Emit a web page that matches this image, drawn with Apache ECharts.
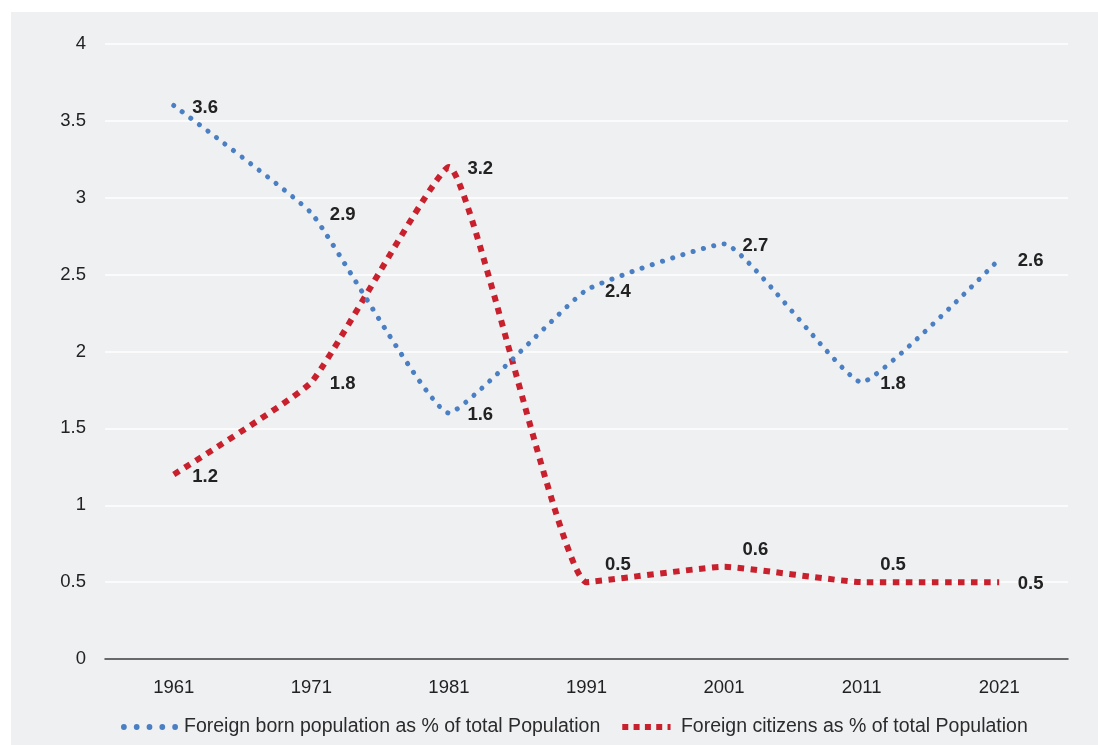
<!DOCTYPE html>
<html>
<head>
<meta charset="utf-8">
<script src="https://cdn.jsdelivr.net/npm/echarts@6/dist/echarts.min.js"></script>
<style>
  html, body { margin: 0; padding: 0; background: #ffffff; }
  #chart { position: absolute; left: 11px; top: 12px; width: 1087px; height: 733px; background: #eff0f2; }
</style>
</head>
<body>
<div id="chart"></div>
<script>
// Census years and shares of total population (%)
const years = ['1961', '1971', '1981', '1991', '2001', '2011', '2021'];
const foreignBorn = [3.6, 2.9, 1.6, 2.4, 2.7, 1.8, 2.6];
const foreignCitizens = [1.2, 1.8, 3.2, 0.5, 0.6, 0.5, 0.5];
const seriesNames = ['Foreign born population as % of total Population', 'Foreign citizens as % of total Population'];

// Labels of the flat tail of the citizens line sit above their points
const raisedCitizenLabels = ['1991', '2001', '2011'];

const BLUE = '#4a7fc3';
const RED = '#c8202d';
const FONT = 'Liberation Sans, Arial, Helvetica, sans-serif';

// Legend keys: a row of round dots and a row of square dashes
function dotRow(n, step, r) {
  let p = 'path://';
  for (let i = 0; i < n; i++) {
    const cx = r + i * step;
    p += `M${cx - r},${r}a${r},${r} 0 1,0 ${2 * r},0a${r},${r} 0 1,0 ${-2 * r},0z`;
  }
  return p;
}
function squareRow(widths, step, s) {
  let p = 'path://';
  widths.forEach((w, i) => { p += `M${i * step},0h${w}v${s}h${-w}z`; });
  return p;
}

const chart = echarts.init(document.getElementById('chart'), null, { renderer: 'canvas' });

const labelStyle = {
  show: true,
  position: 'right',
  distance: 17,
  offset: [1, 2],
  fontFamily: FONT,
  fontSize: 18.5,
  fontWeight: 'bold',
  color: '#222222'
};

chart.setOption({
  backgroundColor: '#eff0f2',
  animation: false,
  grid: { left: 94, right: 30, top: 32, bottom: 86, containLabel: false },
  legend: {
    bottom: 3,
    left: 105,
    itemGap: 22,
    itemWidth: 57,
    itemHeight: 6,
    textStyle: { fontFamily: FONT, fontSize: 19.5, color: '#2b2b2b', padding: [0, 0, 0, 1] },
    data: [
      { name: seriesNames[0], icon: dotRow(5, 13.3, 3), itemStyle: { color: BLUE, opacity: 1 } },
      { name: seriesNames[1], icon: squareRow([7, 7, 7, 7, 3.5], 13.2, 7), itemStyle: { color: RED, opacity: 1 } }
    ]
  },
  xAxis: {
    type: 'category',
    data: years,
    boundaryGap: true,
    axisLine: { show: true, lineStyle: { color: '#3a3a3a', width: 1.5 } },
    axisTick: { show: false },
    axisLabel: { margin: 19, fontFamily: FONT, fontSize: 18.5, color: '#222222' },
    splitLine: { show: false }
  },
  yAxis: {
    type: 'value',
    min: 0,
    max: 4,
    interval: 0.5,
    axisLine: { show: false },
    axisTick: { show: false },
    axisLabel: { margin: 19, fontFamily: FONT, fontSize: 18.5, color: '#222222' },
    splitLine: { show: true, lineStyle: { color: '#ffffff', width: 1.5 } }
  },
  series: [
    {
      name: seriesNames[0],
      type: 'line',
      data: foreignBorn,
      smooth: 0.12,
      symbol: 'circle',
      symbolSize: 1,
      showSymbol: true,
      itemStyle: { color: 'rgba(0,0,0,0)' },
      lineStyle: { color: BLUE, width: 5, type: [0.1, 10.6], cap: 'round' },
      label: labelStyle,
      z: 3
    },
    {
      name: seriesNames[1],
      type: 'line',
      data: foreignCitizens.map((v, i) => raisedCitizenLabels.includes(years[i])
        ? { value: v, label: { offset: [1, -17] } }
        : v),
      smooth: 0.12,
      symbol: 'circle',
      symbolSize: 1,
      showSymbol: true,
      itemStyle: { color: 'rgba(0,0,0,0)' },
      lineStyle: { color: RED, width: 6, type: [6.5, 6.5], cap: 'butt' },
      label: labelStyle,
      z: 2
    }
  ]
});
</script>
</body>
</html>
